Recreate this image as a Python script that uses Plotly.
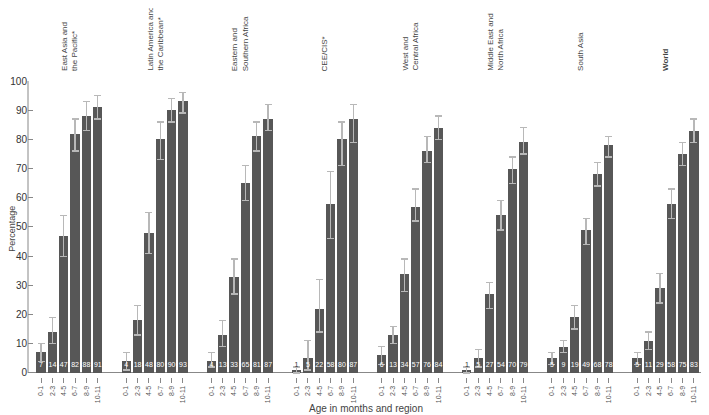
import plotly.graph_objects as go

regions = ["East Asia and<br>the Pacific*", "Latin America and<br>the Caribbean*",
           "Eastern and<br>Southern Africa", "CEE/CIS*", "West and<br>Central Africa",
           "Middle East and<br>North Africa", "South Asia", "<b>World</b>"]
ages = ["0-1", "2-3", "4-5", "6-7", "8-9", "10-11"]

vals_eap = [7, 14, 47, 82, 88, 91]
vals_lac = [4, 18, 48, 80, 90, 93]
vals_esa = [4, 13, 33, 65, 81, 87]
vals_cee = [1, 5, 22, 58, 80, 87]
vals_wca = [6, 13, 34, 57, 76, 84]
vals_mena = [1, 5, 27, 54, 70, 79]
vals_sa = [5, 9, 19, 49, 68, 78]
vals_world = [5, 11, 29, 58, 75, 83]

hi_eap = [10, 19, 54, 87, 93, 95]
hi_lac = [7, 23, 55, 86, 94, 96]
hi_esa = [7, 18, 39, 71, 86, 92]
hi_cee = [2, 11, 32, 69, 86, 92]
hi_wca = [9, 16, 39, 63, 81, 88]
hi_mena = [2, 8, 31, 59, 74, 84]
hi_sa = [7, 11, 23, 53, 72, 81]
hi_world = [7, 14, 34, 63, 79, 87]

lo_eap = [4, 10, 40, 76, 83, 87]
lo_lac = [1, 13, 41, 73, 86, 89]
lo_esa = [2, 9, 27, 59, 76, 83]
lo_cee = [0, 1, 14, 46, 71, 79]
lo_wca = [3, 10, 28, 52, 72, 80]
lo_mena = [0, 2, 22, 49, 65, 75]
lo_sa = [3, 7, 15, 44, 64, 74]
lo_world = [3, 8, 24, 53, 71, 79]

all_vals = [vals_eap, vals_lac, vals_esa, vals_cee, vals_wca, vals_mena, vals_sa, vals_world]
all_hi = [hi_eap, hi_lac, hi_esa, hi_cee, hi_wca, hi_mena, hi_sa, hi_world]
all_lo = [lo_eap, lo_lac, lo_esa, lo_cee, lo_wca, lo_mena, lo_sa, lo_world]

GROUP_STEP = 7.5
xs, ys, up, dn, tick_text = [], [], [], [], []
for g in range(len(regions)):
    for i, a in enumerate(ages):
        xs.append(g * GROUP_STEP + i)
        v = all_vals[g][i]
        ys.append(v)
        up.append(all_hi[g][i] - v)
        dn.append(v - all_lo[g][i])
        tick_text.append(a)

FONT = "Liberation Sans, Arial, sans-serif"
BAR = "#575757"

fig = go.Figure()
fig.add_trace(go.Bar(
    x=xs, y=ys, width=0.82, marker=dict(color=BAR, line=dict(width=0)),
    error_y=dict(type="data", symmetric=False, array=up, arrayminus=dn,
                 color="#b8b8b8", thickness=1.3, width=3.5),
    showlegend=False, hoverinfo="x+y"))

fig.add_trace(go.Scatter(
    x=xs, y=[2.7] * len(xs), mode="text", text=[str(v) for v in ys],
    textposition="middle center",
    textfont=dict(size=7, family=FONT, color=["#ffffff" if v > 2 else "#333333" for v in ys]),
    showlegend=False, hoverinfo="skip"))

for g, name in enumerate(regions):
    fig.add_annotation(
        x=g * GROUP_STEP + 2.5, y=1.0, xref="x", yref="paper", yshift=8, text=name,
        textangle=-90, showarrow=False, xanchor="center", yanchor="bottom",
        align="left", font=dict(size=8, family=FONT, color="#444444"))

fig.add_annotation(x=0.5, y=-0.105, xref="paper", yref="paper",
                   text="Age in months and region", showarrow=False,
                   xanchor="center", yanchor="middle",
                   font=dict(size=10, family=FONT, color="#444444"))

fig.add_annotation(x=-0.024, y=0.5, xref="paper", yref="paper",
                   text="Percentage", showarrow=False, textangle=-90,
                   xanchor="center", yanchor="middle",
                   font=dict(size=9, family=FONT, color="#444444"))

fig.add_shape(type="line", xref="paper", yref="y", x0=0, x1=0, y0=0, y1=100,
              line=dict(color="#888888", width=1))

fig.update_layout(
    width=701, height=407,
    margin=dict(l=20, r=6, t=73, b=38),
    paper_bgcolor="white", plot_bgcolor="white",
    bargap=0,
    xaxis=dict(range=[-1.15, 58.3], tickmode="array", tickvals=xs, ticktext=tick_text,
               tickangle=-90, ticks="outside", ticklen=5, tickcolor="#888888",
               tickfont=dict(size=7, family=FONT, color="#555555"),
               showline=False, showgrid=False, zeroline=False, automargin=False),
    yaxis=dict(range=[-1.4, 100], tickvals=[0, 10, 20, 30, 40, 50, 60, 70, 80, 90, 100],
               ticks="inside", ticklen=5, tickcolor="#888888",
               tickfont=dict(size=10, family=FONT, color="#333333"),
               showline=False, showgrid=False, zeroline=True,
               zerolinecolor="#888888", zerolinewidth=1, automargin=False),
)

fig.write_html("out.html")
